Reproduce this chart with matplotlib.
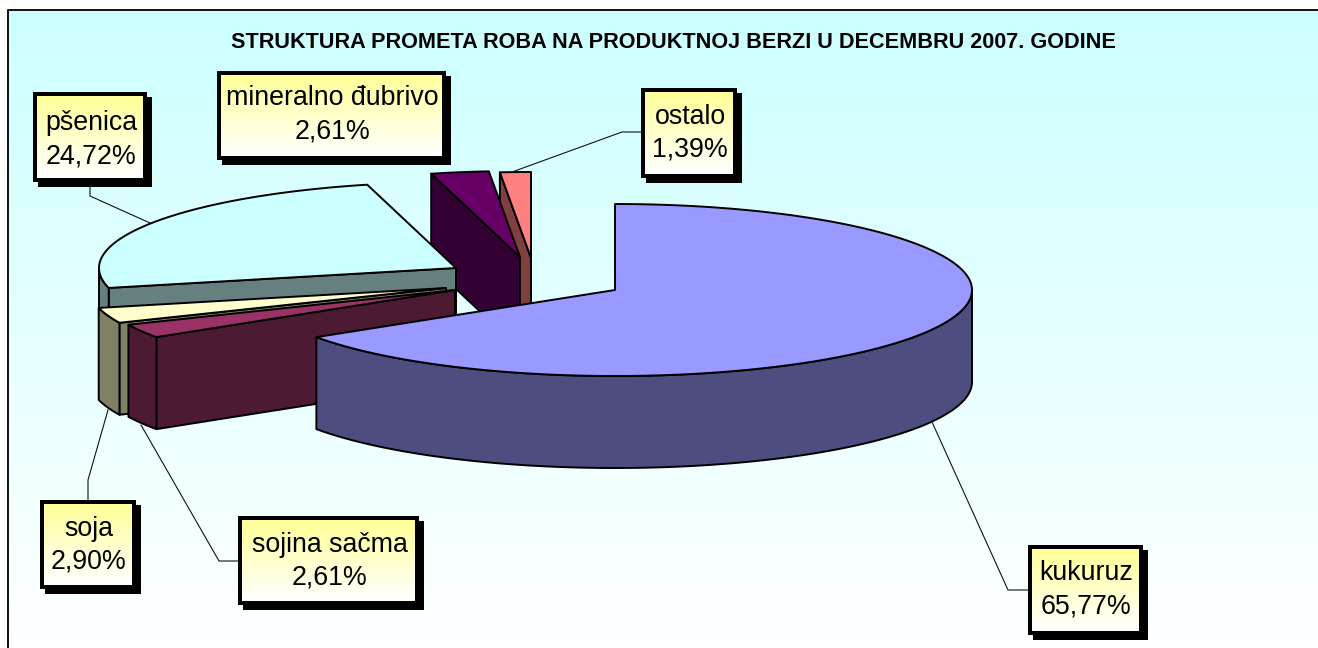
import numpy as np
import matplotlib
matplotlib.use('Agg')
import matplotlib.pyplot as plt
from matplotlib.patches import Polygon, Rectangle
from matplotlib.colors import LinearSegmentedColormap

plt.rcParams['font.family'] = ['Liberation Sans', 'DejaVu Sans']

# Data, clockwise from 12 o'clock
categories = ['kukuruz', 'sojina sačma', 'soja', 'pšenica', 'mineralno đubrivo', 'ostalo']
values = [65.77, 2.61, 2.90, 24.72, 2.61, 1.39]
title = 'STRUKTURA PROMETA ROBA NA PRODUKTNOJ BERZI U DECEMBRU 2007. GODINE'

# Colours: top surface, side wall
top_colors = ['#9999FF', '#993366', '#FFFFCC', '#CCFFFF', '#660066', '#FF8080']
side_colors = ['#4D4D80', '#4D1A33', '#808066', '#668080', '#330033', '#804040']

# Geometry of the exploded pie, in pixels
rx, ry, depth = 357, 86, 92
apex = [(615, 290), (455, 290), (446, 288), (456, 268), (520, 257), (531, 258)]
start_face = [False, True, True, True, True, True]
draw_order = [5, 4, 3, 2, 1, 0]

# Label boxes: x0, y0, x1, y1 of the outer border
boxes = [(1028, 545, 1143, 635), (238, 516, 419, 605), (40, 500, 136, 589),
         (33, 92, 147, 182), (217, 71, 446, 160), (641, 88, 737, 178)]
label_shift = [1, 2, 2, 4, 0, 1]
leaders = [[(1028, 590), (1008, 590), (932, 422)],
           [(238, 561), (219, 561), (141, 425)],
           [(88, 500), (88, 480), (108, 410)],
           [(90, 182), (90, 196), (150, 223)],
           [],
           [(641, 132), (622, 132), (512, 172)]]

fig = plt.figure(figsize=(13.18, 6.48), dpi=100)
ax = fig.add_axes([0, 0, 1, 1])

# background
bg = LinearSegmentedColormap.from_list('bg', ['#CCFFFF', '#FFFFFF'])
ax.imshow(np.linspace(0, 1, 256).reshape(-1, 1), cmap=bg, aspect='auto',
          extent=(8, 1318, 648, 10), zorder=0)
ax.plot([8, 8, 1318], [648, 10, 10], color='#111111', lw=1.4, zorder=1)


def arc(a, t0, t1, drop=0):
    t = np.radians(np.linspace(t0, t1, 200))
    return np.column_stack([a[0] + rx * np.sin(t), a[1] - ry * np.cos(t) + drop])


def add_poly(pts, color, z):
    ax.add_patch(Polygon(pts, closed=True, facecolor=color, edgecolor='black',
                         lw=1.4, joinstyle='round', zorder=z))


edges = np.concatenate([[0], np.cumsum(values)]) / sum(values) * 360

z = 2
for i in draw_order:
    t0, t1 = edges[i], edges[i + 1]
    a = apex[i]
    # cut face on the leading side of the slice
    if start_face[i]:
        p = arc(a, t0, t0)[0]
        add_poly([a, p, (p[0], p[1] + depth), (a[0], a[1] + depth)], side_colors[i], z)
        z += 1
    # outer wall, only the front half of the rim shows
    w0, w1 = max(t0, 90), min(t1, 270)
    if w1 > w0:
        add_poly(np.vstack([arc(a, w0, w1), arc(a, w1, w0, depth)]), side_colors[i], z)
        z += 1
    add_poly(np.vstack([[a], arc(a, t0, t1)]), top_colors[i], z)
    z += 1

# leader lines
for pts in leaders:
    if pts:
        xs, ys = zip(*pts)
        ax.plot(xs, ys, color='#111111', lw=0.8, zorder=50)

# label boxes
yellow = LinearSegmentedColormap.from_list('box', ['#FFFF99', '#FFFFFF'])
for name, val, (x0, y0, x1, y1), dy in zip(categories, values, boxes, label_shift):
    ax.add_patch(Rectangle((x0 + 5, y0 + 5), x1 - x0, y1 - y0, fc='black', ec='none', zorder=60))
    ax.add_patch(Rectangle((x0, y0), x1 - x0, y1 - y0, fc='black', ec='none', zorder=61))
    ax.imshow(np.linspace(0, 1, 64).reshape(-1, 1), cmap=yellow, aspect='auto',
              extent=(x0 + 4, x1 - 4, y1 - 4, y0 + 4), zorder=62)
    label = name + '\n' + f'{val:.2f}'.replace('.', ',') + '%'
    ax.text((x0 + x1) / 2 + 1, (y0 + y1) / 2 - 1 + dy, label, ha='center', va='center',
            fontsize=19.3, linespacing=1.35, color='black', zorder=63)

ax.text(673, 43, title, ha='center', va='center', fontsize=15.6, fontweight='bold', zorder=63)

ax.set_xlim(0, 1318)
ax.set_ylim(648, 0)
ax.axis('off')
fig.savefig('out.png', dpi=100, facecolor='white')
